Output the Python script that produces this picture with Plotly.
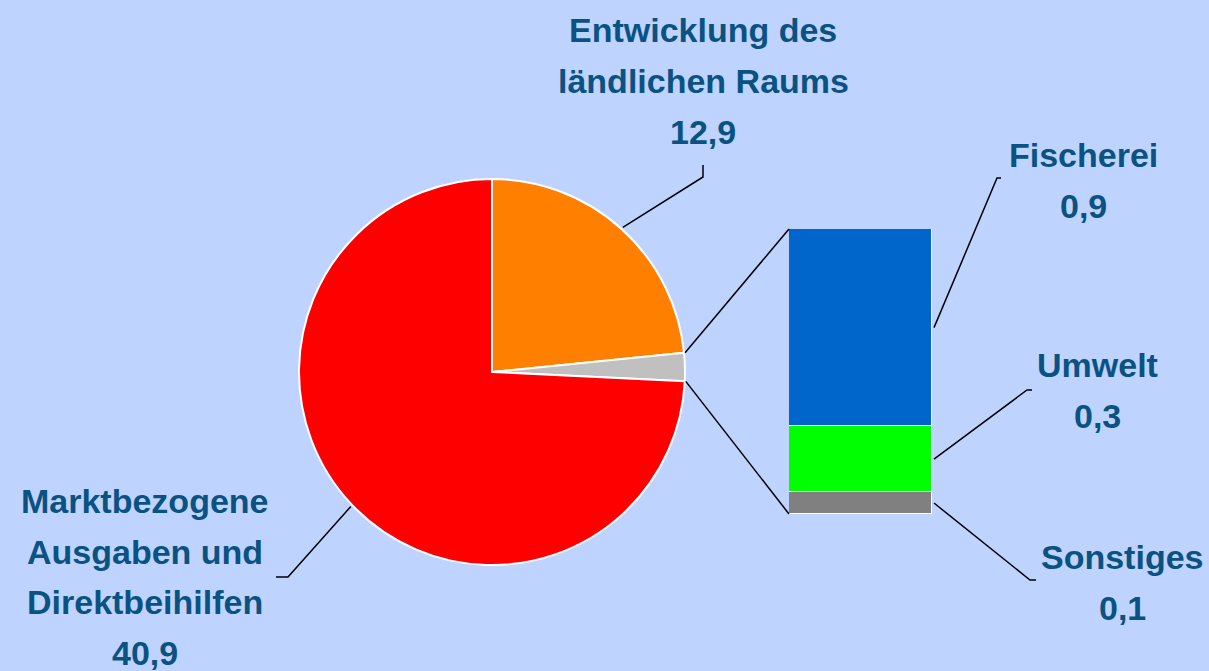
import math
import plotly.graph_objects as go

# ---- data ----
pie_labels = ["Entwicklung des ländlichen Raums", "Sonstige Bereiche", "Marktbezogene Ausgaben und Direktbeihilfen"]
pie_values = [12.9, 1.3, 40.9]
pie_colors = ["#FF8000", "#C0C0C0", "#FF0000"]

bar_labels = ["Sonstiges", "Umwelt", "Fischerei"]   # bottom to top
bar_values = [0.1, 0.3, 0.9]
bar_colors = ["#808080", "#00FF00", "#0066CC"]

label_lines = {
    "Entwicklung des ländlichen Raums": ["Entwicklung des", "ländlichen Raums", "12,9"],
    "Marktbezogene Ausgaben und Direktbeihilfen": ["Marktbezogene", "Ausgaben und", "Direktbeihilfen", "40,9"],
    "Fischerei": ["Fischerei", "0,9"],
    "Umwelt": ["Umwelt", "0,3"],
    "Sonstiges": ["Sonstiges", "0,1"],
}

# ---- layout geometry (pixels) ----
W, H = 1209, 671
BG = "#BFD3FF"
TXT = "#0A5282"
CX, CY, R = 492, 372, 193
BAR_X0, BAR_X1, BAR_TOP, BAR_BOT = 789, 932, 229, 514

def px(x):
    return x / W

def py(y):
    return 1 - y / H

fig = go.Figure()

fig.add_trace(go.Pie(
    labels=pie_labels, values=pie_values, sort=False, direction="clockwise",
    rotation=0, marker=dict(colors=pie_colors, line=dict(color="white", width=2)),
    textinfo="none", showlegend=False,
    domain=dict(x=[px(CX - R), px(CX + R)], y=[py(CY + R), py(CY - R)]),
))

for lab, val, col in zip(bar_labels, bar_values, bar_colors):
    fig.add_trace(go.Bar(
        x=[0], y=[val], name=lab, width=1, showlegend=False,
        marker=dict(color=col, line=dict(color="white", width=1.5)),
        xaxis="x", yaxis="y",
    ))

total = sum(pie_values)
bar_total = sum(bar_values)

def pie_point(frac, r=R):
    a = 2 * math.pi * frac
    return CX + r * math.sin(a), CY - r * math.cos(a)

def bar_y(v):
    return BAR_BOT - (BAR_BOT - BAR_TOP) * v / bar_total

shapes = []
def line(pts):
    path = "M " + " L ".join(f"{px(x):.5f},{py(y):.5f}" for x, y in pts)
    shapes.append(dict(type="path", path=path, xref="paper", yref="paper",
                       line=dict(color="black", width=1.5)))

# connectors from the grey slice to the bar
cum_before = pie_values[0]
p_top = pie_point(cum_before / total)
p_bot = pie_point((cum_before + pie_values[1]) / total)
line([(p_top[0] + 1, p_top[1]), (BAR_X0, BAR_TOP)])
line([(p_bot[0] + 1, p_bot[1]), (BAR_X0, BAR_BOT)])

# pie label leaders
m_orange = pie_point(pie_values[0] / 2 / total, R + 2)
line([m_orange, (703, 177), (703, 165)])
m_red = pie_point((pie_values[0] + pie_values[1] + pie_values[2] / 2) / total, R + 2)
line([m_red, (288, 577), (276, 577)])

# bar label leaders
cum = 0
mids = {}
for lab, val in zip(bar_labels, bar_values):
    mids[lab] = bar_y(cum + val / 2)
    cum += val
line([(BAR_X1 + 2, mids["Fischerei"]), (997, 178), (1001, 178)])
line([(BAR_X1 + 2, mids["Umwelt"]), (1027, 390), (1032, 390)])
line([(BAR_X1 + 2, mids["Sonstiges"]), (1030, 580), (1036, 580)])

annotations = []
def text_block(key, cx, y0, step=51):
    for i, t in enumerate(label_lines[key]):
        annotations.append(dict(
            x=px(cx), y=py(y0 + i * step), xref="paper", yref="paper",
            text=f"<b>{t}</b>", showarrow=False, xanchor="center", yanchor="middle",
            font=dict(family="Liberation Sans, Arial", size=34, color=TXT),
        ))

text_block("Entwicklung des ländlichen Raums", 703, 30)
text_block("Marktbezogene Ausgaben und Direktbeihilfen", 145, 501, 50.7)
text_block("Fischerei", 1083, 155)
text_block("Umwelt", 1097, 365)
text_block("Sonstiges", 1122, 557)

fig.update_layout(
    width=W, height=H, margin=dict(l=0, r=0, t=0, b=0),
    paper_bgcolor=BG, plot_bgcolor=BG, barmode="stack", bargap=0,
    xaxis=dict(domain=[px(BAR_X0), px(BAR_X1)], range=[-0.5, 0.5], visible=False, fixedrange=True),
    yaxis=dict(domain=[py(BAR_BOT), py(BAR_TOP)], range=[0, bar_total], visible=False, fixedrange=True),
    shapes=shapes, annotations=annotations,
)

fig.write_html(
    "out.html",
    config={"displayModeBar": False},
    post_script="document.body.style.margin='0';document.body.style.overflow='hidden';document.body.style.background='" + BG + "';",
)
